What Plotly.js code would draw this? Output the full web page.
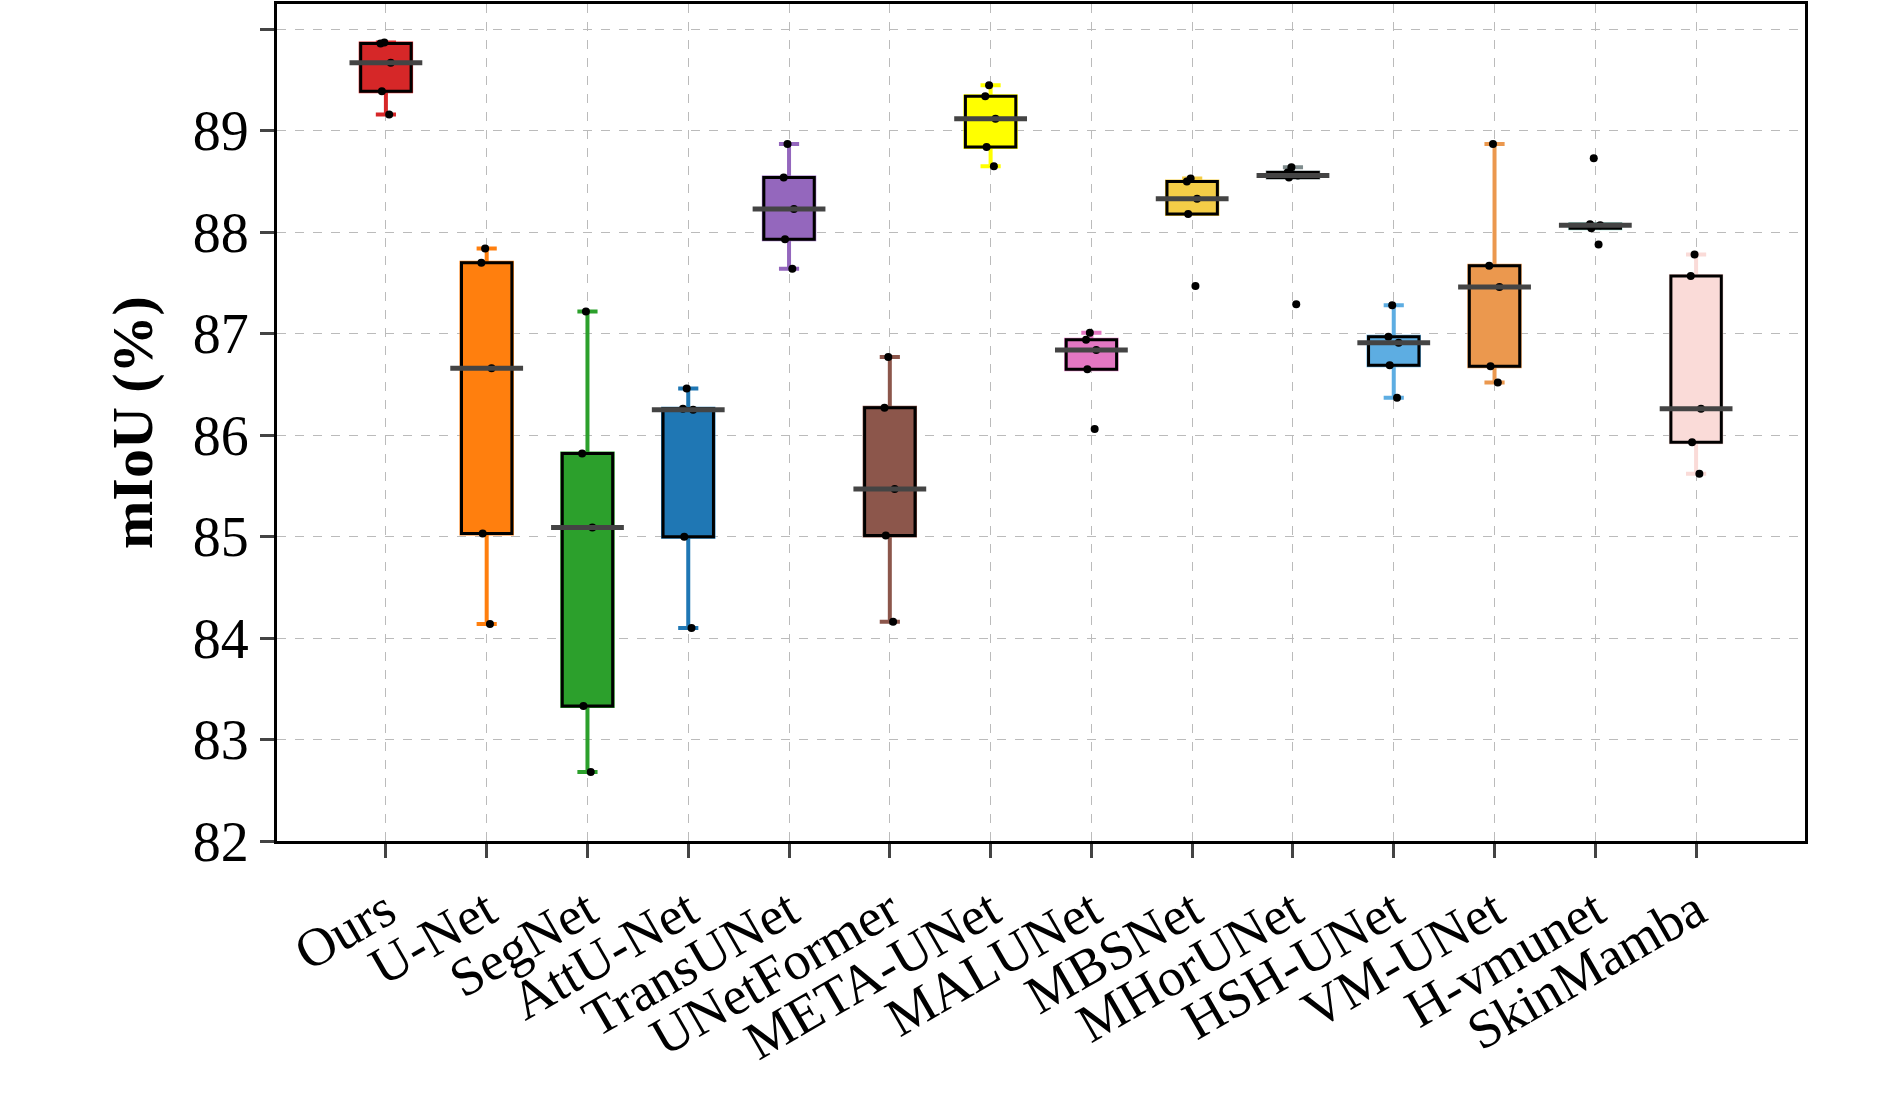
<!DOCTYPE html><html><head><script src="https://cdn.plot.ly/plotly-3.0.1.min.js"></script></head><body style="margin:0">
<div id="c" style="width:1890px;height:1095px"></div>
<script>
const models=["Ours","U-Net","SegNet","AttU-Net","TransUNet","UNetFormer","META-UNet","MALUNet","MBSNet","MHorUNet","HSH-UNet","VM-UNet","H-vmunet","SkinMamba"];
const scores=[
[89.87,89.86,89.67,89.39,89.16],
[87.84,87.70,86.66,85.03,84.14],
[87.22,85.82,85.09,83.33,82.68],
[86.46,86.26,86.25,85.00,84.10],
[88.87,88.54,88.23,87.93,87.64],
[86.77,86.27,85.47,85.01,84.16],
[89.45,89.34,89.12,88.84,88.65],
[87.01,86.94,86.84,86.65,86.06],
[88.53,88.50,88.33,88.18,87.47],
[88.64,88.59,88.56,88.54,87.29],
[87.28,86.97,86.91,86.69,86.37],
[88.87,87.67,87.46,86.68,86.52],
[88.73,88.08,88.07,88.04,87.88],
[87.78,87.57,86.26,85.93,85.62]];
const colors=["#d62728","#ff7f0e","#2ca02c","#1f77b4","#9467bd","#8c564b","#ffff00","#e377c2","#f4cd47","#7f8c8d","#5dade2","#eb984e","#a3e4d7","#fadbd8"];
const traces=[];
const stats=scores.map(s=>{const a=[...s].sort((x,y)=>x-y);const q1=a[1],md=a[2],q3=a[3],iqr=q3-q1;
 const inr=a.filter(v=>v>=q1-1.5*iqr&&v<=q3+1.5*iqr);return {q1,md,q3,lo:Math.min(...inr),hi:Math.max(...inr)};});
models.forEach((m,i)=>{const st=stats[i];
 traces.push({type:"box",x:[m],q1:[st.q1],median:[st.md],q3:[st.q3],lowerfence:[st.lo],upperfence:[st.hi],
  fillcolor:colors[i],line:{color:colors[i],width:4},whiskerwidth:0.4,width:0.5,boxpoints:false,showlegend:false,hoverinfo:"skip"});
 traces.push({type:"box",x:[m],q1:[st.q1],median:[st.md],q3:[st.q3],lowerfence:[st.q1],upperfence:[st.q3],
  fillcolor:colors[i],line:{color:"#000",width:3},whiskerwidth:0,width:0.5,boxpoints:false,showlegend:false,hoverinfo:"skip"});
});
traces.push({type:"scatter",mode:"markers",x:models,y:stats.map(s=>s.md),marker:{symbol:"line-ew",size:52,line:{width:5,color:"#444"}},showlegend:false,hoverinfo:"skip"});
models.forEach((m,i)=>traces.push({type:"box",x:scores[i].map(()=>m),y:scores[i],boxpoints:"all",jitter:0.25,pointpos:0,
 fillcolor:"rgba(0,0,0,0)",line:{width:0,color:"rgba(0,0,0,0)"},marker:{color:"#000",size:8},width:0.5,showlegend:false,hoverinfo:"y"}));
Plotly.newPlot("c",traces,{width:1890,height:1095,margin:{l:277,r:85,t:4,b:254},boxmode:"overlay",
 plot_bgcolor:"#fff",paper_bgcolor:"#fff",font:{family:"Liberation Serif, Times New Roman, serif",color:"#000",size:54},
 xaxis:{type:"category",tickangle:-30,showline:true,mirror:true,linewidth:3,linecolor:"#000",ticks:"outside",ticklen:14,tickwidth:3,
  showgrid:true,gridcolor:"#bbb",griddash:"dash",gridwidth:1,tickfont:{size:54}},
 yaxis:{range:[82,90.25],dtick:1,showline:true,mirror:true,linewidth:3,linecolor:"#000",ticks:"outside",ticklen:14,tickwidth:3,
  showgrid:true,gridcolor:"#bbb",griddash:"dash",gridwidth:1,zeroline:false,tickfont:{size:56},
  title:{text:"<b>mIoU (%)</b>",font:{size:58},standoff:22}}},{displayModeBar:false});
</script></body></html>
